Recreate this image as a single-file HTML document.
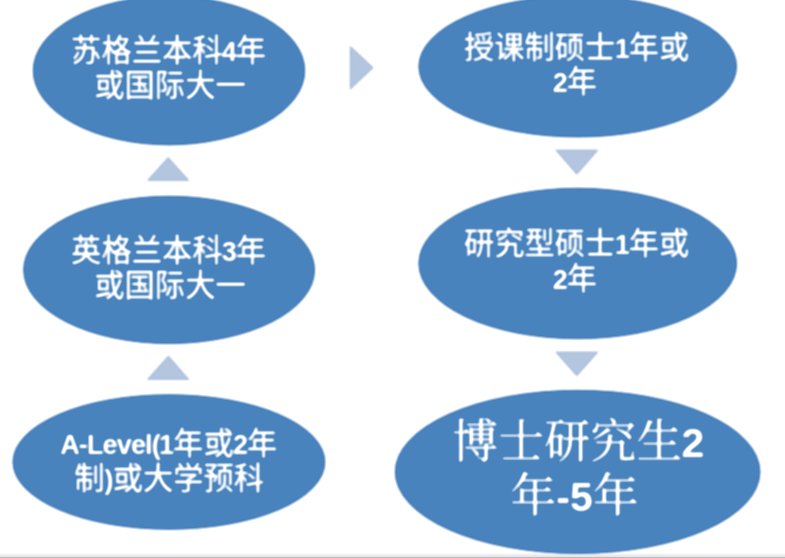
<!DOCTYPE html>
<html lang="zh-CN">
<head>
<meta charset="utf-8">
<title>英国教育体系</title>
<style>
html,body{margin:0;padding:0;background:#fff;}
body{width:785px;height:558px;overflow:hidden;position:relative;}
svg{display:block;position:absolute;left:0;top:0;}
.e{fill:#4983bd;stroke:#3f79b8;stroke-width:1px;}
.a{fill:#b4c5e0;stroke:#a5b8d8;stroke-width:0.8px;stroke-linejoin:miter;}
text{fill:#fff;stroke:#fff;stroke-width:0.3px;stroke-linejoin:round;font-family:"Liberation Sans","Noto Sans CJK SC",sans-serif;font-size:30.3px;font-weight:400;text-anchor:middle;}
.n{font-family:"Liberation Sans",sans-serif;font-weight:bold;font-size:27px;stroke:none;}
.l{font-size:27px;letter-spacing:-0.85px;}
.d{letter-spacing:-1px;}
.s{font-family:"Liberation Serif","Noto Serif CJK SC",serif;font-size:46px;font-weight:400;stroke-width:0.3px;}
.s .n{font-size:41px;}
</style>
</head>
<body>
<svg width="785" height="558" viewBox="0 0 785 558">
<defs>
<filter id="b" x="-5%" y="-5%" width="110%" height="110%"><feGaussianBlur stdDeviation="0.8"/><feComponentTransfer><feFuncA type="linear" slope="1.24" intercept="-0.12"/></feComponentTransfer></filter>
<filter id="t" x="-5%" y="-5%" width="110%" height="110%"><feGaussianBlur stdDeviation="0.8"/><feComponentTransfer><feFuncA type="linear" slope="1.5" intercept="-0.2"/></feComponentTransfer></filter>
</defs>
<rect x="0" y="0" width="785" height="558" fill="#fff"/>
<rect x="0" y="553" width="785" height="1" fill="#fafafb"/>
<rect x="0" y="554" width="785" height="1" fill="#f2f2f5"/>
<rect x="0" y="555" width="785" height="1" fill="#ececf0"/>
<rect x="0" y="556" width="785" height="1" fill="#e6e6ea"/>
<rect x="0" y="557" width="785" height="1" fill="#bcbcbc"/>
<g filter="url(#b)">
<g class="e">
<ellipse cx="169" cy="70.6" rx="135.8" ry="74.3"/>
<ellipse cx="169.1" cy="269.9" rx="145.5" ry="73.7"/>
<ellipse cx="168.9" cy="462" rx="156" ry="67.3"/>
<ellipse cx="577.7" cy="66.5" rx="158.9" ry="70.5"/>
<ellipse cx="577.7" cy="263.5" rx="158.9" ry="75.3"/>
<ellipse cx="577.6" cy="471.9" rx="182.4" ry="81.6"/>
</g>
<g class="a">
<polygon points="350.2,46 373.4,67.7 350.2,89.5"/>
<polygon points="168.2,157.2 189.1,180.6 147.2,180.6"/>
<polygon points="168.4,355.8 189.1,379.5 147.2,379.5"/>
<polygon points="555.5,150 598.2,150 576.8,174.5"/>
<polygon points="555.5,352 598.2,352 576.8,376.1"/>
</g>
</g>
<g class="t" filter="url(#t)">
<text x="168.6" y="60.5">苏格兰本科<tspan class="n d" dx="-0.8">4</tspan>年</text>
<text x="170" y="96">或国际大一</text>
<text x="168.6" y="261">英格兰本科<tspan class="n d" dx="-0.8">3</tspan>年</text>
<text x="170" y="295.5">或国际大一</text>
<text x="168.7" y="454"><tspan class="n l">A-Level(</tspan><tspan class="n d" dx="-0.8">1</tspan>年或<tspan class="n d" dx="-0.8">2</tspan>年</text>
<text x="169.2" y="489">制<tspan class="n l">)</tspan>或大学预科</text>
<text x="576.6" y="57.5">授课制硕士<tspan class="n d" dx="-0.8">1</tspan>年或</text>
<text x="575.6" y="92"><tspan class="n d" dx="-0.8">2</tspan>年</text>
<text x="576.6" y="254">研究型硕士<tspan class="n d" dx="-0.8">1</tspan>年或</text>
<text x="575.6" y="289"><tspan class="n d" dx="-0.8">2</tspan>年</text>
<text class="s" x="577.8" y="457">博士研究生<tspan class="n d" dx="-0.8">2</tspan></text>
<text class="s" x="574.6" y="511">年<tspan class="n">-5</tspan>年</text>
</g>
</svg>
</body>
</html>
